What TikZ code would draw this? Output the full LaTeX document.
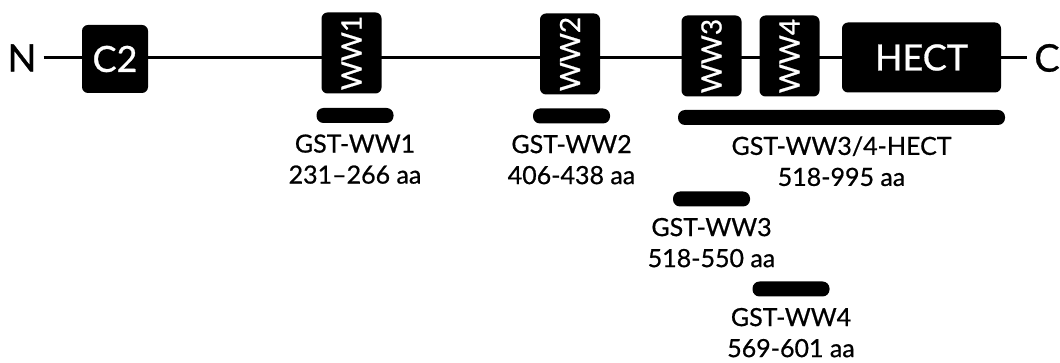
\documentclass[tikz,border=0pt]{standalone}
\usepackage{fontspec}
\setmainfont{Lato}
\newfontfamily\heavy[FakeBold=0.7]{Lato}
\usepackage{tikz}
\usetikzlibrary{positioning}

\begin{document}
\begin{tikzpicture}[x=0.5pt, y=-0.5pt,
  every node/.style={font=\heavy},
  dom/.style={fill=black, rounded corners=3pt, text=white, inner sep=0pt},
  ww/.style={dom, rotate=90, minimum width=40.5pt, minimum height=30pt, font=\heavy\fontsize{14}{16}\selectfont},
  frag/.style={fill=black, rounded corners=3.5pt, minimum width=38.5pt, minimum height=7.5pt, inner sep=0pt},
  lbl/.style={align=center, font=\heavy\fontsize{12.5}{15.5}\selectfont, below=2pt of #1},
  term/.style={font=\heavy\fontsize{19}{21}\selectfont}]
\useasboundingbox (0,0) rectangle (1060,363);
% termini and backbone
\node[term] (N) at (22,58) {N};
\node[term] (C) at (1047,58) {C};
\draw[line width=1.5pt] (N) -- (C);
% domains
\node[dom, minimum width=33pt, minimum height=34pt, font=\heavy\fontsize{18}{20}\selectfont] (C2) at (115,59) {C2};
\node[ww] (WW1) at (351.5,53) {WW1};
\node[ww] (WW2) at (570,54) {WW2};
\node[ww] (WW3) at (711.5,56) {WW3};
\node[ww] (WW4) at (789.5,56) {WW4};
\node[dom, minimum width=79.5pt, minimum height=35pt, font=\heavy\fontsize{18}{20}\selectfont] (HECT) at (921.5,57.5) {HECT};
% GST fragments
\node[frag] (bar1) at (355,115.5) {};
\node[frag] (bar2) at (571.5,116) {};
\node[frag, minimum width=163.5pt] (bar34) at (841.5,117.5) {};
\node[frag] (bar3) at (711.5,199) {};
\node[frag] (bar4) at (791,289) {};
\node[lbl=bar1] (lbl1) {GST-WW1\\231–266 aa};
\node[lbl=bar2] (lbl2) {GST-WW2\\406-438 aa};
\node[lbl=bar34] (lbl34) {GST-WW3/4-HECT\\518-995 aa};
\node[lbl=bar3] (lbl3) {GST-WW3\\518-550 aa};
\node[lbl=bar4] (lbl4) {GST-WW4\\569-601 aa};
\end{tikzpicture}
\end{document}
